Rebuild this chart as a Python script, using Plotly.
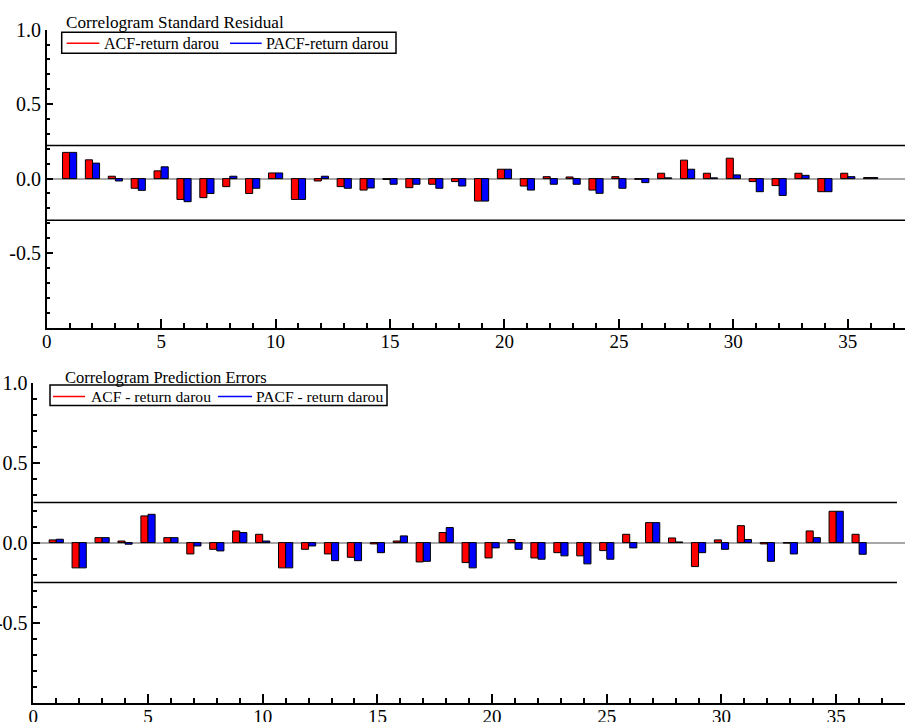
import plotly.graph_objects as go

# ---------------- data ----------------
lags = list(range(1, 37))

acf_resid = [0.176, 0.126, 0.016, -0.065, 0.052, -0.140, -0.128, -0.054, -0.100, 0.038,
             -0.140, -0.016, -0.054, -0.077, -0.006, -0.061, -0.038, -0.020, -0.151, 0.063,
             -0.050, 0.013, 0.011, -0.077, 0.013, -0.005, 0.036, 0.124, 0.036, 0.137,
             -0.020, -0.047, 0.036, -0.088, 0.036, 0.007]
pacf_resid = [0.176, 0.104, -0.016, -0.079, 0.079, -0.155, -0.100, 0.016, -0.065, 0.038,
              -0.140, 0.016, -0.065, -0.063, -0.038, -0.038, -0.065, -0.050, -0.151, 0.063,
              -0.077, -0.038, -0.038, -0.099, -0.065, -0.027, 0.005, 0.063, 0.005, 0.025,
              -0.088, -0.113, 0.022, -0.088, 0.013, 0.007]

acf_pred = [0.017, -0.158, 0.031, 0.010, 0.167, 0.031, -0.071, -0.042, 0.073, 0.052,
            -0.158, -0.042, -0.071, -0.092, -0.008, 0.010, -0.121, 0.063, -0.125, -0.096,
            0.019, -0.096, -0.063, -0.083, -0.050, 0.052, 0.125, 0.029, -0.150, 0.017,
            0.106, -0.008, -0.003, 0.073, 0.196, 0.052]
pacf_pred = [0.021, -0.158, 0.031, -0.010, 0.177, 0.031, -0.021, -0.052, 0.063, 0.010,
             -0.158, -0.021, -0.113, -0.113, -0.063, 0.042, -0.117, 0.094, -0.158, -0.033,
             -0.042, -0.104, -0.083, -0.133, -0.104, -0.033, 0.125, 0.004, -0.063, -0.042,
             0.019, -0.117, -0.071, 0.031, 0.196, -0.073]

conf_resid = [0.223, -0.279]
conf_pred = [0.25, -0.25]

titles = ["Correlogram Standard Residual", "Correlogram Prediction Errors"]
names_resid = ["ACF-return darou", "PACF-return darou"]
names_pred = ["ACF - return darou", "PACF - return darou"]
y_tickvals = [-0.5, 0.0, 0.5, 1.0]
y_ticktext = ["-0.5", "0.0", "0.5", "1.0"]

FONT = "Liberation Serif"
W, H = 905, 722
RED, BLUE = "#FF0000", "#0000FF"

fig = go.Figure()

def add_panel(acf, pacf, xa, ya):
    fig.add_trace(go.Bar(x=lags, y=acf, xaxis=xa, yaxis=ya, showlegend=False, name="ACF",
                         marker=dict(color=RED, line=dict(color="black", width=1))))
    fig.add_trace(go.Bar(x=lags, y=pacf, xaxis=xa, yaxis=ya, showlegend=False, name="PACF",
                         marker=dict(color=BLUE, line=dict(color="black", width=1))))

add_panel(acf_resid, pacf_resid, "x", "y")
add_panel(acf_pred, pacf_pred, "x2", "y2")

def xaxis(domain, rng, anchor):
    return dict(domain=domain, range=rng, anchor=anchor, automargin=False, showline=True,
                linecolor="black", linewidth=1.5, showgrid=False, zeroline=False,
                ticks="inside", ticklen=9, tickwidth=1.5, tickcolor="black",
                tickmode="linear", tick0=0, dtick=5, ticklabelstandoff=-4,
                tickfont=dict(family=FONT, size=19, color="black"),
                minor=dict(ticks="inside", ticklen=5, tickwidth=1.5, tickcolor="black",
                           tickmode="linear", tick0=0, dtick=1, showgrid=False))

def yaxis(domain, rng, anchor):
    return dict(domain=domain, range=rng, anchor=anchor, automargin=False, showline=True,
                linecolor="black", linewidth=1.5, showgrid=False, zeroline=True,
                zerolinecolor="#a8a8a8", zerolinewidth=2, ticks="inside", ticklen=7,
                tickwidth=1.5, tickcolor="black",
                tickmode="array", tickvals=y_tickvals, ticktext=y_ticktext,
                tickfont=dict(family=FONT, size=20, color="black"),
                minor=dict(ticks="inside", ticklen=4, tickwidth=1.5, tickcolor="black",
                           tickmode="linear", tick0=0, dtick=0.1, showgrid=False))

def px(x):
    return x / W

def py(y):
    return 1 - y / H

x1_dom = [px(46.7), 1.0]
y1_dom = [py(327.5), py(29.7)]
x2_dom = [px(33.3), 1.0]
y2_dom = [py(702.5), py(382.7)]
x1_range = [0, 37.5]
x2_range = [0, 38.0]

shapes = []
for v in conf_resid:
    shapes.append(dict(type="line", xref="x", yref="y", x0=0, x1=x1_range[1], y0=v, y1=v,
                       line=dict(color="black", width=1.5)))
for v in conf_pred:
    shapes.append(dict(type="line", xref="x2", yref="y2", x0=0, x1=37.65, y0=v, y1=v,
                       line=dict(color="black", width=1.5)))

annotations = []

def legend_box(box, yc, items, names, size):
    # box = (x0, y0, x1, y1) in pixels; items = [(line_x0, line_x1, text_x), ...]
    shapes.append(dict(type="rect", xref="paper", yref="paper",
                       x0=px(box[0]), x1=px(box[2]), y0=py(box[1]), y1=py(box[3]),
                       line=dict(color="black", width=1.5), fillcolor="white", layer="above"))
    for (lx0, lx1, tx), col, name in zip(items, [RED, BLUE], names):
        shapes.append(dict(type="line", xref="paper", yref="paper",
                           x0=px(lx0), x1=px(lx1), y0=py(yc), y1=py(yc),
                           line=dict(color=col, width=1.5), layer="above"))
        annotations.append(dict(text=name, xref="paper", yref="paper", x=px(tx), y=py(yc),
                                xanchor="left", yanchor="middle", showarrow=False,
                                font=dict(family=FONT, size=size, color="black")))

legend_box((61.7, 32.3, 396, 53.3), 43.3,
           [(66.7, 99.3, 101.5), (230, 261.7, 263.5)], names_resid, 16)
legend_box((50, 385, 387, 405.5), 396.5,
           [(53, 85, 88.5), (218, 252, 253.5)], names_pred, 15.6)

annotations.append(dict(text=titles[0], xref="paper", yref="paper", x=px(64), y=py(22),
                        xanchor="left", yanchor="middle", showarrow=False,
                        font=dict(family=FONT, size=17.2, color="black")))
annotations.append(dict(text=titles[1], xref="paper", yref="paper", x=px(63), y=py(377),
                        xanchor="left", yanchor="middle", showarrow=False,
                        font=dict(family=FONT, size=16.5, color="black")))

fig.update_layout(
    width=W, height=H, margin=dict(l=0, r=0, t=0, b=0),
    paper_bgcolor="white", plot_bgcolor="white", showlegend=False,
    barmode="group", bargap=0.38, bargroupgap=0,
    xaxis=xaxis(x1_dom, x1_range, "y"),
    yaxis=yaxis(y1_dom, [-1.0, 1.0], "x"),
    xaxis2=xaxis(x2_dom, x2_range, "y2"),
    yaxis2=yaxis(y2_dom, [-1.0, 1.0], "x2"),
    shapes=shapes,
    annotations=annotations,
)

# remove the default 8px page margin so the figure fills the window exactly
fig.write_html("out.html", config={"displayModeBar": False},
               post_script="document.body.style.margin='0px';document.body.style.overflow='hidden';")
